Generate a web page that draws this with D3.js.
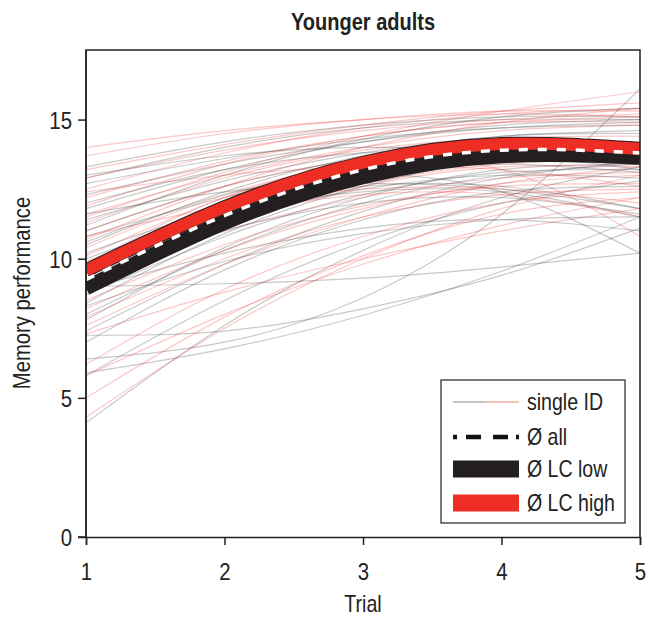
<!DOCTYPE html>
<html>
<head>
<meta charset="utf-8">
<script src="https://cdn.jsdelivr.net/npm/d3@7"></script>
<style>
  body { margin: 0; background: #fff; }
  svg { display: block; }
  text { font-family: "Liberation Sans", Arial, sans-serif; fill: #222; }
</style>
</head>
<body>
<svg id="chart" width="648" height="622"></svg>
<script>
// ---------- data ----------
const trials = [1, 2, 3, 4, 5];
const xTicks = [1, 2, 3, 4, 5];
const yTicks = [0, 5, 10, 15];

// single-ID fitted curves, LC low group (values at trials 1..5)
const lowIDs = [
  [13.3, 14.2, 14.8, 15.1, 15.1],
  [12.9, 14.0, 14.7, 15.0, 15.0],
  [12.7, 13.6, 14.3, 14.7, 14.8],
  [12.3, 13.4, 14.2, 14.7, 14.9],
  [11.8, 13.2, 14.2, 14.8, 15.0],
  [11.4, 12.8, 13.8, 14.4, 14.6],
  [11.0, 12.6, 13.6, 14.0, 13.8],
  [10.8, 12.2, 13.1, 13.4, 13.1],
  [10.5, 12.4, 13.7, 14.4, 14.5],
  [9.7, 12.0, 13.5, 14.2, 14.1],
  [9.0, 9.1, 9.3, 9.7, 10.2],
  [8.7, 10.8, 12.3, 13.1, 13.2],
  [8.4, 10.9, 12.6, 13.6, 13.8],
  [8.0, 10.3, 12.0, 13.0, 13.4],
  [7.8, 10.4, 12.2, 13.2, 13.4],
  [7.4, 9.8, 11.7, 12.9, 13.5],
  [7.25, 7.4, 8.2, 9.4, 11.1],
  [5.9, 6.76, 7.97, 9.55, 11.5],
  [4.1, 7.6, 10.3, 12.2, 13.3],
  [6.4, 7.0, 8.6, 11.6, 16.1],
  [5.8, 8.5, 10.6, 12.0, 12.8],
  [9.5, 11.3, 12.5, 13.0, 12.9],
  [10.2, 11.8, 12.6, 12.6, 11.8],
  [12.0, 13.2, 13.8, 13.9, 13.4],
  [11.6, 12.4, 12.7, 12.5, 11.8],
  [9.2, 11.0, 12.0, 12.2, 11.6],
  [8.9, 10.2, 11.1, 11.4, 11.0],
  [10.0, 11.6, 12.4, 12.4, 11.5],
  [13.0, 13.7, 14.0, 13.8, 13.2],
  [8.3, 9.9, 10.9, 11.4, 11.5],
  [7.0, 9.6, 11.4, 12.4, 12.6],
  [11.2, 13.0, 14.3, 15.1, 15.4],
  [10.6, 12.3, 13.0, 12.4, 10.2]
];

// single-ID fitted curves, LC high group (values at trials 1..5)
const highIDs = [
  [14.0, 14.6, 15.0, 15.2, 15.1],
  [13.7, 14.5, 15.0, 15.3, 15.3],
  [13.2, 14.1, 14.8, 15.3, 15.6],
  [12.9, 13.9, 14.6, 15.0, 15.2],
  [12.5, 13.8, 14.7, 15.2, 15.4],
  [12.2, 13.5, 14.4, 14.9, 15.1],
  [11.9, 13.4, 14.4, 14.9, 14.9],
  [11.6, 13.0, 14.0, 14.6, 14.8],
  [11.3, 12.9, 13.9, 14.3, 14.1],
  [11.0, 12.6, 13.6, 14.1, 14.1],
  [10.7, 12.6, 14.0, 14.9, 15.4],
  [10.4, 12.3, 13.5, 14.0, 13.8],
  [10.1, 12.2, 13.6, 14.3, 14.4],
  [9.6, 11.4, 12.7, 13.4, 13.6],
  [8.8, 11.1, 12.6, 13.3, 13.3],
  [8.5, 10.5, 11.9, 12.6, 12.7],
  [8.2, 10.3, 11.8, 12.7, 13.0],
  [7.9, 10.0, 11.5, 12.3, 12.5],
  [7.6, 9.8, 11.5, 12.7, 13.3],
  [9.8, 12.2, 13.3, 13.2, 10.8],
  [6.2, 8.9, 10.8, 12.0, 12.4],
  [5.8, 8.0, 9.8, 11.2, 12.2],
  [4.3, 7.5, 10.0, 11.8, 13.0],
  [5.0, 7.9, 10.1, 11.6, 12.2],
  [9.3, 11.0, 12.2, 12.9, 13.1],
  [10.8, 11.9, 12.5, 12.5, 12.0],
  [12.4, 13.0, 13.3, 13.2, 12.6],
  [7.3, 8.8, 10.0, 11.0, 11.8],
  [9.9, 11.5, 12.3, 12.3, 11.5],
  [11.5, 13.1, 14.4, 15.3, 16.0]
];

// group means at trials 1..5
const meanLow  = [8.95, 11.3, 12.95, 13.7, 13.65];
const meanHigh = [9.58, 11.85, 13.45, 14.12, 13.95];
const meanAll  = [9.25, 11.55, 13.2, 13.9, 13.8];

const legendLabels = ["single ID", "Ø all", "Ø LC low", "Ø LC high"];

// ---------- layout ----------
const svg = d3.select("#chart");
const L = 86, R = 640, T = 50, B = 537;
const SX = 0.85; // horizontal condensing of the text
const x = d3.scaleLinear().domain([1, 5]).range([L, R]);
const y = d3.scaleLinear().domain([0, 17.5]).range([B, T]);

function addText(g, tx, ty, str, size, anchor, opts = {}) {
  const rot = opts.rotate ? ` rotate(${opts.rotate})` : "";
  return g.append("text")
    .attr("transform", `translate(${tx},${ty})${rot} scale(${opts.sx || SX},1)`)
    .attr("text-anchor", anchor)
    .attr("font-size", size)
    .attr("font-weight", opts.weight || "normal")
    .text(str);
}

svg.append("defs").append("clipPath").attr("id", "clip")
  .append("rect").attr("x", L).attr("y", T).attr("width", R - L).attr("height", B - T);

const line = d3.line()
  .x((d, i) => x(trials[i]))
  .y(d => y(d))
  .curve(d3.curveNatural);

const plot = svg.append("g").attr("clip-path", "url(#clip)");

// individual lines (interleaved groups)
const maxN = Math.max(lowIDs.length, highIDs.length);
for (let i = 0; i < maxN; i++) {
  if (i < lowIDs.length)
    plot.append("path").attr("d", line(lowIDs[i])).attr("fill", "none")
      .attr("stroke", "rgba(60,60,60,0.28)").attr("stroke-width", 1.2);
  if (i < highIDs.length)
    plot.append("path").attr("d", line(highIDs[i])).attr("fill", "none")
      .attr("stroke", "rgba(235,50,50,0.27)").attr("stroke-width", 1.2);
}

// mean lines
plot.append("path").attr("d", line(meanLow)).attr("fill", "none")
  .attr("stroke", "#231f20").attr("stroke-width", 15);
plot.append("path").attr("d", line(meanHigh)).attr("fill", "none")
  .attr("stroke", "#231f20").attr("stroke-width", 14);
plot.append("path").attr("d", line(meanHigh)).attr("fill", "none")
  .attr("stroke", "#ee2d24").attr("stroke-width", 12);
plot.append("path").attr("d", line(meanAll)).attr("fill", "none")
  .attr("stroke", "#fff").attr("stroke-width", 3.5).attr("stroke-dasharray", "9,10");

// box
const axisColor = "#222";
svg.append("path")
  .attr("d", `M${L},${B}V${T}H${R}V${B}`)
  .attr("fill", "none").attr("stroke", axisColor).attr("stroke-width", 1.5);

// axes
const xAxis = d3.axisBottom(x).tickValues(xTicks).tickSize(8).tickFormat(d3.format("d"));
const gx = svg.append("g").attr("transform", `translate(0,${B})`).call(xAxis);
gx.select(".domain").attr("stroke", axisColor).attr("stroke-width", 1.5);
gx.selectAll(".tick line").attr("stroke", axisColor).attr("stroke-width", 1.5);
gx.selectAll(".tick text").remove();
gx.selectAll(".tick").each(function (d) {
  addText(d3.select(this), 0, 43, d3.format("d")(d), 24, "middle");
});

const yAxis = d3.axisLeft(y).tickValues(yTicks).tickSize(8).tickFormat(d3.format("d"));
const gy = svg.append("g").attr("transform", `translate(${L},0)`).call(yAxis);
gy.select(".domain").attr("stroke", axisColor).attr("stroke-width", 1.5)
  .attr("d", `M-8,${B}H0V${T}`);
gy.selectAll(".tick line").attr("stroke", axisColor).attr("stroke-width", 1.5);
gy.selectAll(".tick text").remove();
gy.selectAll(".tick").each(function (d) {
  addText(d3.select(this), -14, 8.5, d3.format("d")(d), 24, "end");
});

// titles
addText(svg, 363, 30, "Younger adults", 23, "middle", { weight: "bold", sx: 0.87 });
addText(svg, 363, 612, "Trial", 23, "middle");
addText(svg, 30, 293, "Memory performance", 23, "middle", { rotate: -90, sx: 0.88 });

// legend
const lg = svg.append("g");
lg.append("rect").attr("x", 441).attr("y", 380).attr("width", 184).attr("height", 143)
  .attr("fill", "#fff").attr("stroke", "#222").attr("stroke-width", 1.2);
const rowY = [402, 437, 469, 503];
const lx0 = 453, lx1 = 519;
lg.append("line").attr("x1", lx0).attr("x2", (lx0 + lx1) / 2).attr("y1", rowY[0]).attr("y2", rowY[0])
  .attr("stroke", "#c4c4c4").attr("stroke-width", 2);
lg.append("line").attr("x1", (lx0 + lx1) / 2).attr("x2", lx1).attr("y1", rowY[0]).attr("y2", rowY[0])
  .attr("stroke", "#f6c3b6").attr("stroke-width", 2);
lg.append("line").attr("x1", lx0).attr("x2", lx1).attr("y1", rowY[1]).attr("y2", rowY[1])
  .attr("stroke", "#111").attr("stroke-width", 4.5).attr("stroke-dasharray", "4,9,15,12,15,8,4");
lg.append("line").attr("x1", lx0).attr("x2", lx1).attr("y1", rowY[2]).attr("y2", rowY[2])
  .attr("stroke", "#231f20").attr("stroke-width", 17);
lg.append("line").attr("x1", lx0).attr("x2", lx1).attr("y1", rowY[3]).attr("y2", rowY[3])
  .attr("stroke", "#ee2d24").attr("stroke-width", 17);
legendLabels.forEach((d, i) => addText(lg, 527, rowY[i] + 8, d, 23, "start"));
</script>
</body>
</html>
